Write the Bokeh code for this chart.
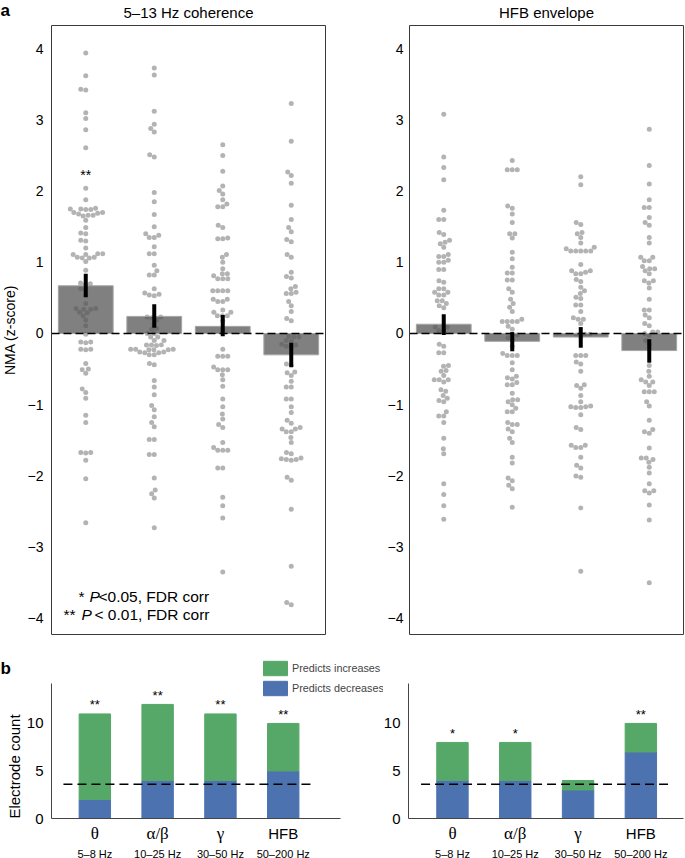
import math
from bokeh.plotting import figure
from bokeh.models import (Range1d, FixedTicker, BoxAnnotation, Legend, LegendItem,
                          ColumnDataSource, CustomJSTickFormatter)
from bokeh.layouts import column, row
from bokeh.embed import file_html
from bokeh.resources import INLINE
from bokeh.core.properties import value

FONT = "Liberation Sans"
SERIF = "Liberation Serif"
BLUE = "#4c72b0"
GREEN = "#55a868"
DOT = "#b3b3b3"

# ---------------- data: panel a (NMA z-scores per electrode) ----------------
band_names = ["θ", "α/β", "γ", "HFB"]
band_ranges = ["5–8 Hz", "10–25 Hz", "30–50 Hz", "50–200 Hz"]

coh_theta = [3.94, 3.62, 3.43, 3.42, 3.10, 3.02, 2.86, 2.61, 2.04, 1.88,
             1.76, 1.75, 1.75, 1.74, 1.74, 1.70, 1.70, 1.69, 1.68, 1.66, 1.66, 1.65,
             1.59, 1.49, 1.41, 1.40, 1.31, 1.30, 1.20, 1.12, 1.12, 1.11, 1.11, 1.07,
             1.07, 1.06, 1.06, 1.01, 0.89, 0.71, 0.70, 0.69, 0.63, 0.62, 0.54, 0.42,
             0.35, 0.35, 0.34, 0.34, 0.30, 0.29, 0.25, 0.19, 0.11, -0.01, -0.12,
             -0.12, -0.13, -0.22, -0.22, -0.23, -0.42, -0.50, -0.51, -0.56, -0.78,
             -0.83, -0.91, -1.15, -1.25, -1.67, -1.67, -1.68, -1.78, -2.04, -2.66]
coh_alpha = [3.73, 3.63, 3.12, 2.94, 2.88, 2.83, 2.51, 2.48, 1.98, 1.85, 1.67, 1.50,
             1.40, 1.38, 1.35, 1.35, 1.22, 1.12, 1.12, 0.96, 0.88, 0.82, 0.82, 0.63,
             0.57, 0.55, 0.54, 0.53, 0.23, 0.23, 0.22, 0.19, 0.13, 0.07, 0.06, 0.00,
             0.00, -0.05, -0.05, -0.10, -0.10, -0.16, -0.16, -0.16, -0.17, -0.22,
             -0.22, -0.22, -0.23, -0.23, -0.23, -0.26, -0.26, -0.27, -0.27, -0.30,
             -0.30, -0.42, -0.44, -0.66, -0.75, -0.86, -1.01, -1.07, -1.17, -1.25,
             -1.31, -1.49, -1.49, -1.70, -1.70, -2.03, -2.20, -2.25, -2.31, -2.73]
coh_gamma = [2.65, 2.50, 2.28, 2.07, 2.01, 1.96, 1.88, 1.82, 1.78, 1.78, 1.52, 1.49,
             1.34, 1.33, 1.33, 1.11, 1.07, 1.00, 0.91, 0.84, 0.84, 0.81, 0.77, 0.77,
             0.77, 0.60, 0.60, 0.60, 0.60, 0.48, 0.48, 0.45, 0.45, 0.33, 0.30, 0.30,
             0.25, 0.25, 0.25, 0.18, 0.05, -0.22, -0.32, -0.32, -0.32, -0.47, -0.51,
             -0.51, -0.51, -0.58, -0.65, -0.74, -0.92, -1.03, -1.13, -1.20, -1.28,
             -1.32, -1.53, -1.60, -1.64, -1.64, -1.64, -1.89, -1.89, -2.30, -2.42,
             -2.59, -3.35]
coh_hfb = [3.23, 2.70, 2.27, 2.22, 2.11, 1.80, 1.60, 1.49, 1.43, 1.32, 1.29, 1.11,
           1.07, 0.86, 0.80, 0.78, 0.66, 0.63, 0.58, 0.56, 0.56, 0.45, 0.39, 0.31,
           0.21, 0.18, -0.04, -0.05, -0.05, -0.10, -0.11, -0.15, -0.16, -0.18, -0.19,
           -0.43, -0.45, -0.54, -0.55, -0.59, -0.67, -0.75, -0.75, -0.92, -0.92,
           -1.03, -1.11, -1.22, -1.26, -1.32, -1.34, -1.34, -1.38, -1.38, -1.46,
           -1.53, -1.67, -1.69, -1.75, -1.76, -1.77, -1.77, -1.78, -2.02, -2.06,
           -2.47, -3.27, -3.78, -3.81]

env_theta = [3.08, 2.48, 2.33, 2.16, 1.73, 1.60, 1.60, 1.42, 1.39, 1.31, 1.28, 1.26,
             1.21, 1.11, 1.08, 1.08, 1.03, 1.00, 1.00, 0.90, 0.90, 0.74, 0.72, 0.63,
             0.63, 0.58, 0.58, 0.54, 0.54, 0.46, 0.46, 0.42, 0.39, 0.36, 0.09, 0.09,
             0.04, 0.04, -0.15, -0.18, -0.27, -0.27, -0.45, -0.46, -0.52, -0.53,
             -0.59, -0.65, -0.65, -0.65, -0.68, -0.79, -0.81, -0.87, -0.91, -0.94,
             -0.96, -1.10, -1.16, -1.16, -1.25, -1.47, -1.62, -1.69, -2.11, -2.26,
             -2.42, -2.61]
env_alpha = [2.43, 2.30, 2.30, 2.30, 1.79, 1.76, 1.68, 1.56, 1.40, 1.40, 1.34, 1.14,
             1.05, 0.93, 0.85, 0.85, 0.75, 0.75, 0.63, 0.58, 0.48, 0.42, 0.37, 0.31,
             0.20, 0.17, 0.17, 0.17, 0.17, 0.10, 0.06, -0.02, -0.02, -0.06, -0.10,
             -0.18, -0.28, -0.31, -0.31, -0.31, -0.41, -0.51, -0.60, -0.62, -0.64,
             -0.69, -0.72, -0.72, -0.84, -0.93, -0.93, -0.96, -1.00, -1.05, -1.10,
             -1.10, -1.25, -1.28, -1.28, -1.34, -1.38, -1.47, -1.53, -1.74, -1.82,
             -2.03, -2.07, -2.13, -2.18, -2.44]
env_gamma = [2.20, 2.09, 1.56, 1.53, 1.42, 1.40, 1.35, 1.27, 1.21, 1.19, 1.16, 1.16,
             1.16, 1.16, 1.16, 0.97, 0.88, 0.88, 0.86, 0.84, 0.84, 0.76, 0.73, 0.65,
             0.60, 0.56, 0.51, 0.49, 0.40, 0.40, 0.31, 0.22, 0.20, 0.20, 0.14, -0.01,
             -0.01, -0.02, -0.05, -0.31, -0.31, -0.31, -0.40, -0.43, -0.53, -0.72,
             -0.73, -0.77, -0.87, -0.96, -1.02, -1.03, -1.04, -1.04, -1.03, -1.14,
             -1.32, -1.35, -1.57, -1.57, -1.60, -1.60, -1.74, -1.85, -1.89, -2.00,
             -2.02, -2.45, -3.34]
env_hfb = [2.87, 2.36, 2.10, 1.88, 1.77, 1.77, 1.63, 1.56, 1.52, 1.35, 1.27, 1.07,
           1.07, 1.02, 1.02, 0.94, 0.91, 0.91, 0.88, 0.84, 0.74, 0.74, 0.71, 0.64,
           0.48, 0.33, 0.33, 0.26, 0.22, 0.14, 0.11, 0.02, 0.02, 0.00, -0.03, -0.10,
           -0.15, -0.45, -0.53, -0.60, -0.65, -0.68, -0.68, -0.73, -0.82, -0.82,
           -0.82, -0.96, -1.02, -1.22, -1.35, -1.38, -1.40, -1.61, -1.75, -1.75,
           -1.77, -1.81, -1.88, -1.96, -2.11, -2.21, -2.21, -2.24, -2.41, -2.62, -3.50]

coh_mean = [0.67, 0.24, 0.10, -0.30]
coh_lo = [0.51, 0.08, -0.04, -0.47]
coh_hi = [0.84, 0.41, 0.26, -0.13]
env_mean = [0.13, -0.11, -0.05, -0.24]
env_lo = [-0.02, -0.25, -0.20, -0.41]
env_hi = [0.27, 0.02, 0.09, -0.08]
coh_sig = ["**", "", "", ""]
coh_sig_y = [2.22, None, None, None]

# ---------------- data: panel b (electrode counts) ----------------
coh_dec = [2, 4, 4, 5]
coh_inc = [9, 8, 7, 5]
env_dec = [4, 4, 3, 7]
env_inc = [4, 4, 1, 3]
coh_stars = ["**", "**", "**", "**"]
env_stars = ["*", "*", "", "**"]
chance_level = 3.6

minus_fmt = "return tick < 0 ? '\u2212' + Math.abs(tick) : String(tick);"


def swarm_offsets(vals, ypx, xpx, d=5.0):
    n = len(vals)
    order = sorted(range(n), key=lambda i: vals[i])
    placed = []
    off = [0.0] * n
    for i in order:
        y = vals[i] * ypx
        near = [(px, py) for (px, py) in placed if abs(py - y) < d]
        cands = [0.0]
        for px, py in near:
            dx = math.sqrt(max(d * d - (py - y) ** 2, 0.0))
            cands += [px + dx, px - dx]
        cands.sort(key=lambda c: (abs(c), c))
        chosen = cands[-1]
        for c in cands:
            if all((c - px) ** 2 + (y - py) ** 2 >= d * d - 1e-6 for px, py in near):
                chosen = c
                break
        placed.append((chosen, y))
        off[i] = chosen / xpx
    return off


# panel a geometry: frame box 274 x 609 px, categories at 0..3 in [-0.5, 3.5]
Y0, Y1 = -4.228, 4.326
AXPX = 274 / 4.0
AYPX = 609 / (Y1 - Y0)
A_H = 640
A_TOP = 25


def bare_figure(width, height, xr, yr):
    p = figure(width=width, height=height, x_range=Range1d(*xr), y_range=Range1d(*yr),
               output_backend="svg", toolbar_location=None, min_border=0,
               min_border_left=0, min_border_right=0, min_border_top=0,
               min_border_bottom=0)
    p.xgrid.visible = False
    p.ygrid.visible = False
    p.outline_line_color = None
    return p


def style_yaxis(ax, size, standoff):
    ax.major_tick_line_color = None
    ax.minor_tick_line_color = None
    ax.major_tick_out = 0
    ax.major_tick_in = 0
    ax.minor_tick_out = 0
    ax.minor_tick_in = 0
    ax.major_label_text_font = FONT
    ax.major_label_text_font_size = size
    ax.major_label_text_color = "black"
    ax.major_label_standoff = standoff


def panel_a(cols, means, lo, hi, title, width, left, standoff, ylabel=None, letter=None):
    xr = (-0.5 - left / AXPX, -0.5 + (width - left) / AXPX)
    yr = (Y0 - (A_H - A_TOP - 609) / AYPX, Y1 + A_TOP / AYPX)
    p = bare_figure(width, A_H, xr, yr)
    p.xaxis.visible = False
    ya = p.yaxis[0]
    ya.fixed_location = -0.5
    ya.ticker = FixedTicker(ticks=[-4, -3, -2, -1, 0, 1, 2, 3, 4])
    ya.formatter = CustomJSTickFormatter(code=minus_fmt)
    ya.axis_line_color = None
    style_yaxis(ya, "14px", standoff)

    xs, ys = [], []
    for i, vals in enumerate(cols):
        offs = swarm_offsets(vals, AYPX, AXPX, d=5.0)
        xs += [i + o for o in offs]
        ys += list(vals)
    p.scatter(x=xs, y=ys, size=5, fill_color=DOT, line_color=None)

    src = ColumnDataSource(dict(x=list(range(4)), mean=means, lo=lo, hi=hi))
    p.vbar(x="x", top="mean", bottom=0, width=0.8, source=src, fill_color="#555555",
           fill_alpha=0.75, line_color="#a5a5a5", line_width=1)
    p.segment(x0="x", x1="x", y0="lo", y1="hi", source=src, line_color="black",
              line_width=4)
    p.segment(x0=[-0.5], x1=[3.5], y0=[0], y1=[0], line_color="black",
              line_dash="8 4", line_width=1.5)
    p.add_layout(BoxAnnotation(left=-0.5, right=3.5, bottom=Y0, top=Y1, fill_alpha=0,
                               line_color="#3a3a3a", line_width=1, line_alpha=1))
    p.text(x=[1.5], y=[Y1 + (A_TOP - 12) / AYPX], text=[title], text_align="center",
           text_baseline="middle", text_font=value(FONT), text_font_size="15px")
    if ylabel:
        p.text(x=[xr[0] + 9 / AXPX], y=[(Y0 + Y1) / 2], text=[ylabel], angle=math.pi / 2,
               text_align="center", text_baseline="middle", text_font=value(FONT),
               text_font_size="14px")
    if letter:
        p.text(x=[xr[0]], y=[Y1 + (A_TOP - 10) / AYPX], text=[letter], text_align="left",
               text_baseline="alphabetic", text_font=value(FONT), text_font_size="17px",
               text_font_style="bold")
    return p


a1 = panel_a([coh_theta, coh_alpha, coh_gamma, coh_hfb], coh_mean, coh_lo, coh_hi,
             "5–13 Hz coherence", 343, 51, 8, ylabel="NMA (z-score)", letter="a")
a2 = panel_a([env_theta, env_alpha, env_gamma, env_hfb], env_mean, env_lo, env_hi,
             "HFB envelope", 342, 66, 6)

# significance star on panel a
a1.text(x=[0], y=[coh_sig_y[0]], text=[coh_sig[0]], text_align="center",
        text_baseline="middle", text_font=value(FONT), text_font_size="14px")


def xa(wx):
    return (wx - 51) / AXPX - 0.5


def ya_(wy):
    return Y1 - (wy - A_TOP) / AYPX


note_txt = ["*", "P", "<0.05, FDR corr", "**", "P", "< 0.01, FDR corr"]
note_wx = [78, 89, 98, 63, 81, 94]
note_wy = [596, 596, 596, 614, 614, 614]
note_style = ["normal", "italic", "normal", "normal", "italic", "normal"]
for txt, wx, wy, style in zip(note_txt, note_wx, note_wy, note_style):
    a1.text(x=[xa(wx)], y=[ya_(wy)], text=[txt], text_align="left",
            text_baseline="middle", text_font=value(FONT), text_font_size="15.5px",
            text_font_style=style)

# panel b geometry: frame 135 px tall for 0..14.2, 43 px above, 40 px below
B_TOP = 14.2
B_H = 218
BYPX = 135 / B_TOP
BXPX = 62.8


def panel_b(dec, inc, stars, width, left, x0, x1, ylabel=None, letter=None, legend=False):
    xr = (x0 - left / BXPX, x0 + (width - left) / BXPX)
    yr = (-40 / BYPX, B_TOP + 43 / BYPX)
    p = bare_figure(width, B_H, xr, yr)
    xa_ = p.xaxis[0]
    xa_.fixed_location = 0
    xa_.bounds = (x0, x1)
    xa_.ticker = FixedTicker(ticks=[])
    xa_.axis_line_color = "#444444"
    xa_.major_tick_line_color = None
    xa_.minor_tick_line_color = None
    ya = p.yaxis[0]
    ya.fixed_location = x0
    ya.bounds = (0, B_TOP)
    ya.ticker = FixedTicker(ticks=[0, 5, 10])
    ya.axis_line_color = "#444444"
    style_yaxis(ya, "15px", 8)

    src = ColumnDataSource(dict(x=list(range(4)), dec=dec, inc=inc,
                                total=[a + b for a, b in zip(dec, inc)], stars=stars))
    rs = p.vbar_stack(["dec", "inc"], x="x", width=0.5, color=[BLUE, GREEN], source=src)
    p.segment(x0=[-0.5], x1=[3.5], y0=[chance_level], y1=[chance_level], line_color="black",
              line_dash="9 5", line_width=1.5)
    star_y = [t + 9 / BYPX for t in src.data["total"]]
    p.text(x=list(range(4)), y=star_y, text=stars, text_align="center",
           text_baseline="middle", text_font=value(FONT), text_font_size="13px")
    for i in range(4):
        name = band_names[i]
        p.text(x=[i], y=[-15 / BYPX], text=[name], text_align="center",
               text_baseline="middle",
               text_font=value(FONT if name == "HFB" else SERIF),
               text_font_size="15px" if name == "HFB" else "17px")
        p.text(x=[i], y=[-35 / BYPX], text=[band_ranges[i]], text_align="center",
               text_baseline="middle", text_font=value(FONT), text_font_size="11px")
    if ylabel:
        p.text(x=[xr[0] + 14 / BXPX], y=[5.47], text=[ylabel], angle=math.pi / 2,
               text_align="center", text_baseline="middle", text_font=value(FONT),
               text_font_size="15px")
    if letter:
        p.text(x=[xr[0]], y=[B_TOP + (43 - 28) / BYPX], text=[letter], text_align="left",
               text_baseline="alphabetic", text_font=value(FONT), text_font_size="17px",
               text_font_style="bold")
    if legend:
        lg = Legend(items=[LegendItem(label=value("Predicts increases"), renderers=[rs[1]]),
                           LegendItem(label=value("Predicts decreases"), renderers=[rs[0]])],
                    location=(260, 161), orientation="vertical", glyph_width=30,
                    glyph_height=18, label_height=18, spacing=2, padding=0, margin=0,
                    label_standoff=2, label_text_font=FONT, label_text_font_size="10.8px",
                    background_fill_alpha=0, border_line_alpha=0)
        p.add_layout(lg)
    return p


b1 = panel_b(coh_dec, coh_inc, coh_stars, 383, 51, -0.69, 3.91,
             ylabel="Electrode count", letter="b", legend=True)
b2 = panel_b(env_dec, env_inc, env_stars, 302, 25, -0.70, 3.686)

layout = column(row(a1, a2), row(b1, b2))
open("out.html", "w").write(file_html(layout, INLINE))
